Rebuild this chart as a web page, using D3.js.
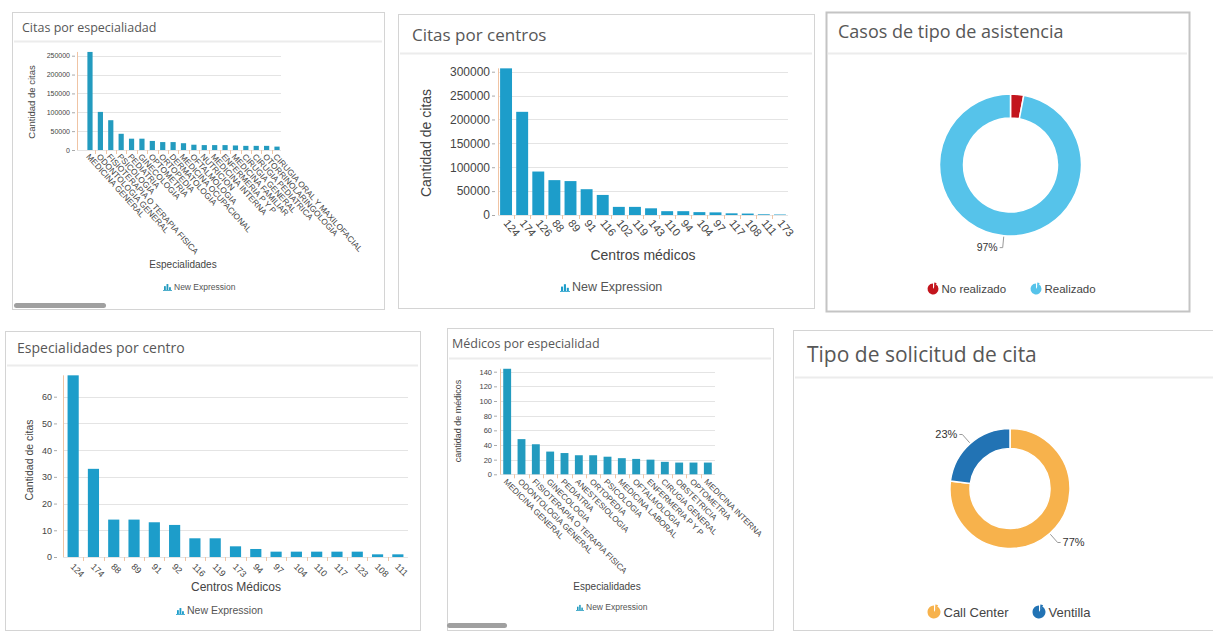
<!DOCTYPE html>
<html>
<head>
<meta charset="utf-8">
<script src="https://cdn.jsdelivr.net/npm/d3@7"></script>
<style>
  body { margin: 0; background: #fff; }
  svg { display: block; }
</style>
</head>
<body>
<script>
// ---- Citas por especialidad ----
const especialidadesCitas = [
  "MEDICINA GENERAL", "ODONTOLOGIA GENERAL", "FISIOTERAPIA O TERAPIA FISICA", "PSICOLOGIA",
  "PEDIATRIA", "GINECOLOGIA", "OPTOMETRIA", "ORTOPEDIA", "DERMATOLOGIA", "MEDICINA OCUPACIONAL",
  "OFTALMOLOGIA", "NUTRICION", "MEDICINA INTERNA", "ENFERMERIA P Y P", "MEDICINA FAMILIAR",
  "CIRUGIA GENERAL", "CIRUGIA PEDIATRICA", "OTORRINOLARINGOLOGIA", "CIRUGIA ORAL Y MAXILOFACIAL"
];
const citasPorEspecialidad = [
  260000, 101000, 79000, 43000, 30000, 30000, 24000, 21000, 21000, 18000,
  14000, 13000, 13000, 13000, 12000, 11000, 11000, 11000, 9000
];

// ---- Citas por centros ----
const centrosCitas = ["124", "174", "126", "88", "89", "91", "116", "102", "119", "143",
  "110", "94", "104", "97", "117", "108", "111", "173"];
const citasPorCentro = [307000, 216000, 91000, 73000, 71000, 54000, 42000, 17000, 17000, 14000,
  8000, 8000, 6000, 5500, 3500, 3000, 1500, 1000];

// ---- Casos de tipo de asistencia ----
const asistenciaTipos = ["No realizado", "Realizado"];
const asistenciaValores = [3, 97];

// ---- Especialidades por centro ----
const centrosEspecialidades = ["124", "174", "88", "89", "91", "92", "116", "119", "173",
  "94", "97", "104", "110", "117", "123", "108", "111"];
const especialidadesPorCentro = [68, 33, 14, 14, 13, 12, 7, 7, 4, 3, 2, 2, 2, 2, 2, 1, 1];

// ---- Médicos por especialidad ----
const especialidadesMedicos = [
  "MEDICINA GENERAL", "ODONTOLOGIA GENERAL", "FISIOTERAPIA O TERAPIA FISICA", "GINECOLOGIA",
  "PEDIATRIA", "ANESTESIOLOGIA", "ORTOPEDIA", "PSICOLOGIA", "MEDICINA LABORAL", "OFTALMOLOGIA",
  "ENFERMERIA P Y P", "CIRUGIA GENERAL", "OBSTETRICIA", "OPTOMETRIA", "MEDICINA INTERNA"
];
const medicosPorEspecialidad = [144, 48, 41, 31, 29, 26, 26, 24, 22, 21, 20, 17, 16, 16, 16];

// ---- Tipo de solicitud de cita ----
const solicitudTipos = ["Call Center", "Ventilla"];
const solicitudValores = [77, 23];

const W = 1213, H = 631;
const SANS = "'Liberation Sans', Arial, sans-serif";
const TITLE = "'Open Sans', 'Noto Sans', sans-serif";

const svg = d3.select("body").append("svg")
  .attr("width", W).attr("height", H)
  .attr("viewBox", `0 0 ${W} ${H}`);

svg.append("rect").attr("width", W).attr("height", H).attr("fill", "#fff");

// Panel frame with a title bar
function panel(p) {
  const g = svg.append("g");
  g.append("rect")
    .attr("x", p.x + 0.5).attr("y", p.y + 0.5)
    .attr("width", p.w).attr("height", p.h)
    .attr("fill", "#fff")
    .attr("stroke", p.stroke || "#d4d4d4")
    .attr("stroke-width", p.sw || 1);
  g.append("line")
    .attr("x1", p.x + 2).attr("x2", p.x + p.w - 2)
    .attr("y1", p.sep + 0.5).attr("y2", p.sep + 0.5)
    .attr("stroke", "#ececec").attr("stroke-width", 2);
  g.append("text")
    .attr("x", p.tx).attr("y", p.ty)
    .attr("font-family", TITLE).attr("font-size", p.ts)
    .attr("fill", "#575757")
    .text(p.title);
  return g;
}

// Small bar-chart glyph used by the "New Expression" legends
function barLegend(g, cx, cy, size, fontSize, color) {
  const s = size;
  const ic = g.append("g").attr("transform", `translate(${cx},${cy})`);
  [[0, 0.55], [0.36, 0.85], [0.72, 0.4]].forEach(([dx, h]) => {
    ic.append("rect")
      .attr("x", dx * s).attr("y", -h * s)
      .attr("width", s * 0.26).attr("height", h * s)
      .attr("fill", color);
  });
  ic.append("line").attr("x1", -1).attr("x2", s + 1).attr("y1", 0.5).attr("y2", 0.5)
    .attr("stroke", color).attr("stroke-width", 0.8);
  g.append("text")
    .attr("x", cx + s + 3).attr("y", cy)
    .attr("font-family", SANS).attr("font-size", fontSize).attr("fill", "#555")
    .text("New Expression");
}

function barChart(g, cats, vals, o) {
  const x = d3.scaleBand().domain(cats).range([o.x0, o.x1])
    .paddingInner(o.pad).paddingOuter(o.padOuter);
  const y = d3.scaleLinear().domain([0, o.topTick]).range([o.y0, o.yTop]);
  const ticks = d3.range(0, o.topTick + 1, o.step);

  // horizontal grid
  g.append("g").selectAll("line").data(ticks).join("line")
    .attr("x1", o.gx0).attr("x2", o.gx1)
    .attr("y1", d => Math.round(y(d)) + 0.5).attr("y2", d => Math.round(y(d)) + 0.5)
    .attr("stroke", "#e4e4e4");

  // value axis (tick marks sit a little apart from the axis rule)
  const ay = g.append("g").attr("transform", `translate(${o.gx0 - o.tickGap},0)`)
    .call(d3.axisLeft(y).tickValues(ticks).tickSize(3).tickPadding(2).tickFormat(d3.format("d")));
  ay.select(".domain").remove();
  ay.selectAll(".tick line").attr("stroke", "#aaa");
  ay.selectAll(".tick text")
    .attr("font-family", SANS).attr("font-size", o.yFont).attr("fill", "#444");

  // bars
  g.append("g").selectAll("rect").data(vals).join("rect")
    .attr("x", (d, i) => x(cats[i]))
    .attr("width", x.bandwidth())
    .attr("y", d => y(d))
    .attr("height", d => o.y0 - y(d))
    .attr("fill", o.color);

  // category axis
  const ax = g.append("g").attr("transform", `translate(0,${o.y0})`)
    .call(d3.axisBottom(x).tickSize(0));
  ax.select(".domain").remove();
  ax.selectAll(".tick text")
    .attr("font-family", SANS).attr("font-size", o.xFont).attr("fill", "#444")
    .attr("text-anchor", "start")
    .attr("x", 0).attr("y", 0).attr("dy", "0.35em")
    .attr("transform", `translate(${o.lx},${o.ly}) rotate(${o.rot})`);

  // band separators on the category axis
  g.append("g").selectAll("line").data(cats.slice(1)).join("line")
    .attr("x1", d => Math.round(x(d) - x.step() * x.paddingInner() / 2) + 0.5)
    .attr("x2", d => Math.round(x(d) - x.step() * x.paddingInner() / 2) + 0.5)
    .attr("y1", o.y0).attr("y2", o.y0 + 4)
    .attr("stroke", "#f0c4a4");

  // axis rule
  g.append("line")
    .attr("x1", o.gx0 + 0.5).attr("x2", o.gx0 + 0.5)
    .attr("y1", o.y0).attr("y2", y(d3.max(vals)))
    .attr("stroke", "#f0c4a4");

  // axis titles
  g.append("text")
    .attr("transform", `translate(${o.yLabX},${o.yLabY}) rotate(-90)`)
    .attr("text-anchor", "middle")
    .attr("font-family", SANS).attr("font-size", o.yLabFont).attr("fill", "#444")
    .text(o.yLabel);
  g.append("text")
    .attr("x", o.xLabX).attr("y", o.xLabY)
    .attr("text-anchor", "middle")
    .attr("font-family", SANS).attr("font-size", o.xLabFont).attr("fill", "#444")
    .text(o.xLabel);

  barLegend(g, o.legX, o.legY, o.legIcon, o.legFont, o.color);
}

// Pie-shaped glyph for the donut legends
function pieGlyph(g, cx, cy, r, color) {
  const a = d3.arc().innerRadius(0).outerRadius(r);
  const ic = g.append("g").attr("transform", `translate(${cx},${cy})`);
  ic.append("path").attr("d", a({ startAngle: 0.55, endAngle: Math.PI * 2 })).attr("fill", color);
  ic.append("path").attr("d", a({ startAngle: 0.05, endAngle: 0.5 }))
    .attr("transform", "translate(1,-1)").attr("fill", color);
}

function donut(g, cats, vals, colors, o) {
  const pie = d3.pie().sort(null).value(d => d);
  const arcs = pie(vals);
  const total = d3.sum(vals);
  const arc = d3.arc().innerRadius(o.ri).outerRadius(o.ro);
  const c = g.append("g").attr("transform", `translate(${o.cx},${o.cy})`);

  c.selectAll("path").data(arcs).join("path")
    .attr("d", arc)
    .attr("fill", (d, i) => colors[i])
    .attr("stroke", "#fff").attr("stroke-width", 1.5);

  arcs.forEach(a => {
    const pct = Math.round(a.data / total * 100);
    if (pct < 5) return;
    const m = (a.startAngle + a.endAngle) / 2;
    const sx = Math.sin(m), sy = -Math.cos(m);
    const side = sx < 0 ? -1 : 1;
    const p1 = [sx * (o.ro + 1), sy * (o.ro + 1)];
    const p2 = [sx * (o.ro + 12), sy * (o.ro + 12)];
    const p3 = [p2[0] + side * 3, p2[1]];
    c.append("polyline")
      .attr("points", [p1, p2, p3].map(p => p.join(",")).join(" "))
      .attr("fill", "none").attr("stroke", "#999");
    c.append("text")
      .attr("x", p3[0] + side * 2).attr("y", p3[1])
      .attr("dy", "0.35em")
      .attr("text-anchor", side < 0 ? "end" : "start")
      .attr("font-family", SANS).attr("font-size", o.pctFont).attr("fill", "#333")
      .text(pct + "%");
  });

  cats.forEach((name, i) => {
    pieGlyph(g, o.legX[i], o.legY, o.legR, colors[i]);
    g.append("text")
      .attr("x", o.legX[i] + o.legR + 3).attr("y", o.legY)
      .attr("dy", "0.35em")
      .attr("font-family", SANS).attr("font-size", o.legFont).attr("fill", "#444")
      .text(name);
  });
}

// ---------- top row ----------
const g1 = panel({ x: 12, y: 12, w: 372, h: 297, sep: 41, title: "Citas por especialiadad", tx: 22, ty: 32, ts: 12.5 });
barChart(g1, especialidadesCitas, citasPorEspecialidad, {
  x0: 77, x1: 290, pad: 0.5, padOuter: 1, gx0: 77, gx1: 281,
  y0: 150, yTop: 55.7, topTick: 250000, step: 50000, tickGap: 2,
  color: "#239bbf", yFont: 7, xFont: 8.3, rot: 48, lx: -2, ly: 5,
  yLabel: "Cantidad de citas", yLabX: 35, yLabY: 102, yLabFont: 9.5,
  xLabel: "Especialidades", xLabX: 183, xLabY: 268, xLabFont: 10,
  legX: 164, legY: 290, legIcon: 7, legFont: 8.5
});
g1.append("rect").attr("x", 14).attr("y", 303).attr("width", 92).attr("height", 5)
  .attr("rx", 2.5).attr("fill", "#a0a0a0");

const g2 = panel({ x: 398, y: 14, w: 416, h: 294, sep: 53, title: "Citas por centros", tx: 412, ty: 41, ts: 17 });
barChart(g2, centrosCitas, citasPorCentro, {
  x0: 498, x1: 788, pad: 0.26, padOuter: 0.13, gx0: 498, gx1: 788,
  y0: 215, yTop: 71.7, topTick: 300000, step: 50000, tickGap: 3,
  color: "#1d9dca", yFont: 12, xFont: 11, rot: 50, lx: 0, ly: 6,
  yLabel: "Cantidad de citas", yLabX: 431, yLabY: 143, yLabFont: 14,
  xLabel: "Centros médicos", xLabX: 643, xLabY: 260, xLabFont: 14,
  legX: 561, legY: 291, legIcon: 8, legFont: 12.5
});

const g3 = panel({ x: 826, y: 12, w: 363, h: 299, sep: 53, title: "Casos de tipo de asistencia", tx: 838, ty: 38, ts: 18, stroke: "#c4c4c4", sw: 2 });
donut(g3, asistenciaTipos, asistenciaValores, ["#c3151d", "#56c3ea"], {
  cx: 1010.5, cy: 165, ro: 71, ri: 47, pctFont: 10.5,
  legX: [933, 1036], legY: 289, legR: 5.5, legFont: 11.5
});

// ---------- bottom row ----------
const g4 = panel({ x: 5, y: 331, w: 415, h: 299, sep: 365, title: "Especialidades por centro", tx: 17, ty: 353, ts: 14 });
barChart(g4, centrosEspecialidades, especialidadesPorCentro, {
  x0: 63, x1: 408, pad: 0.45, padOuter: 0.225, gx0: 63, gx1: 408,
  y0: 557, yTop: 396.7, topTick: 60, step: 10, tickGap: 6,
  color: "#1d9dca", yFont: 9, xFont: 9, rot: 45, lx: -1, ly: 8,
  yLabel: "Cantidad de citas", yLabX: 33, yLabY: 460, yLabFont: 10.5,
  xLabel: "Centros Médicos", xLabX: 236, xLabY: 591, xLabFont: 12,
  legX: 177, legY: 614, legIcon: 7, legFont: 10.5
});

const g5 = panel({ x: 447, y: 328, w: 326, h: 302, sep: 358, title: "Médicos por especialidad", tx: 452, ty: 348, ts: 12.5 });
barChart(g5, especialidadesMedicos, medicosPorEspecialidad, {
  x0: 500, x1: 715, pad: 0.45, padOuter: 0.225, gx0: 500, gx1: 715,
  y0: 474.3, yTop: 371.7, topTick: 140, step: 20, tickGap: 3,
  color: "#239bbf", yFont: 7.5, xFont: 8.2, rot: 45, lx: -2, ly: 6,
  yLabel: "cantidad de médicos", yLabX: 461, yLabY: 421, yLabFont: 9,
  xLabel: "Especialidades", xLabX: 607, xLabY: 590, xLabFont: 10,
  legX: 577, legY: 610, legIcon: 6, legFont: 8.5
});
g5.append("rect").attr("x", 447).attr("y", 623).attr("width", 60).attr("height", 5)
  .attr("rx", 2.5).attr("fill", "#a0a0a0");

const g6 = panel({ x: 793, y: 330, w: 430, h: 300, sep: 377, title: "Tipo de solicitud de cita", tx: 807, ty: 362, ts: 21 });
donut(g6, solicitudTipos, solicitudValores, ["#f7b24c", "#2273b4"], {
  cx: 1010, cy: 488.5, ro: 60, ri: 40, pctFont: 11,
  legX: [934, 1039], legY: 612, legR: 6.5, legFont: 13
});
</script>
</body>
</html>
